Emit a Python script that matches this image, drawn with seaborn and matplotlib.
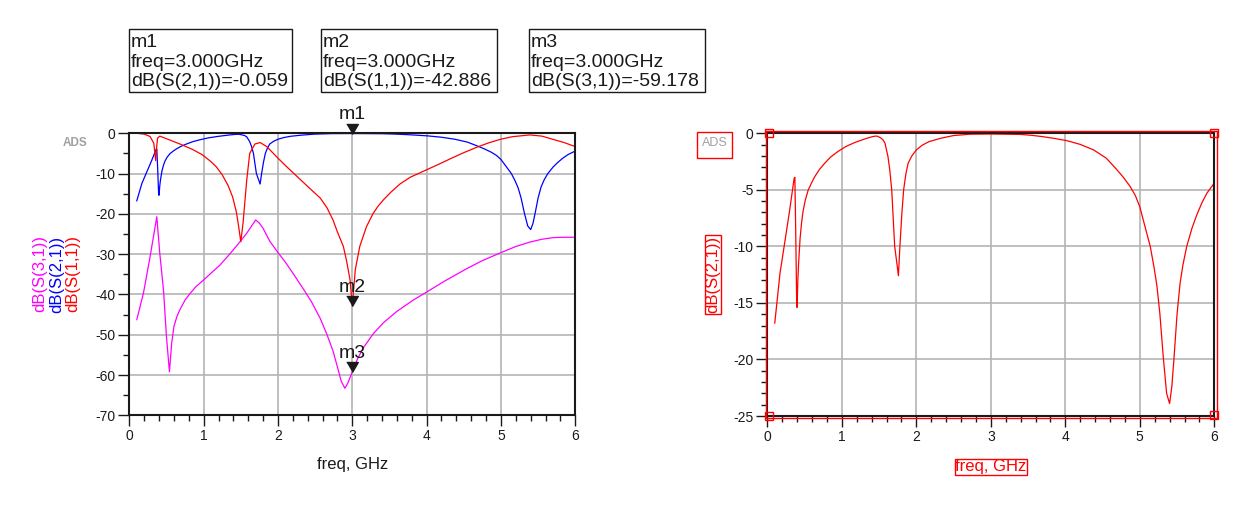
import matplotlib
matplotlib.use("Agg")
import matplotlib.pyplot as plt
import seaborn as sns
from matplotlib.patches import Rectangle
from matplotlib.ticker import MultipleLocator

# ---------------- data ----------------
s11_freq = [0.10, 0.20, 0.28, 0.33, 0.355, 0.37, 0.38, 0.41, 0.55, 0.70, 0.85, 0.98, 1.09,
            1.17, 1.25, 1.33, 1.39, 1.44, 1.47, 1.50, 1.53, 1.58, 1.62, 1.69, 1.76, 1.85,
            1.98, 2.10, 2.25, 2.40, 2.57, 2.66, 2.74, 2.80, 2.88, 2.92, 2.97, 3.00, 3.04,
            3.10, 3.19, 3.28, 3.35, 3.42, 3.52, 3.64, 3.78, 3.90, 4.00, 4.15, 4.31, 4.50,
            4.67, 4.83, 4.99, 5.15, 5.39, 5.55, 5.70, 5.85, 6.00]
s11_db = [0.0, -0.2, -0.8, -2.5, -6.8, -3.0, -1.2, -0.7, -1.7, -2.8, -4.0, -5.3, -6.9,
          -8.3, -10.3, -13.0, -15.8, -19.5, -23.0, -26.9, -22.3, -11.6, -5.0, -2.65, -2.3, -3.3,
          -5.8, -8.0, -10.6, -13.2, -16.1, -18.5, -21.5, -24.5, -28.1, -31.4, -36.4, -42.886, -33.9,
          -28.1, -23.2, -19.9, -18.0, -16.5, -14.6, -12.6, -10.9, -9.9, -9.05, -7.8, -6.4, -4.8,
          -3.5, -2.4, -1.5, -0.85, -0.4, -0.7, -1.5, -2.3, -3.3]

s21_freq = [0.10, 0.17, 0.24, 0.30, 0.36, 0.37, 0.38, 0.395, 0.40, 0.41, 0.42, 0.44, 0.46,
            0.48, 0.51, 0.55, 0.60, 0.64, 0.70, 0.77, 0.85, 0.95, 1.06, 1.18, 1.33, 1.42,
            1.47, 1.51, 1.55, 1.58, 1.62, 1.645, 1.67, 1.71, 1.745, 1.76, 1.78, 1.805, 1.83,
            1.86, 1.89, 1.94, 2.00, 2.08, 2.17, 2.32, 2.50, 2.72, 3.00, 3.40, 3.55, 3.70,
            3.85, 4.02, 4.20, 4.38, 4.55, 4.69, 4.78, 4.87, 4.94, 5.00, 5.07, 5.14, 5.19,
            5.23, 5.27, 5.315, 5.36, 5.40, 5.43, 5.46, 5.50, 5.54, 5.58, 5.63, 5.70, 5.76,
            5.83, 5.90, 6.00]
s21_db = [-16.8, -12.4, -9.4, -6.8, -4.0, -3.9, -8.0, -15.3, -15.4, -13.0, -11.5, -9.3, -7.9,
          -6.9, -5.9, -5.0, -4.3, -3.8, -3.2, -2.65, -2.1, -1.6, -1.15, -0.8, -0.45, -0.28,
          -0.24, -0.36, -0.55, -0.88, -2.07, -3.3, -5.0, -10.0, -11.8, -12.6, -10.0, -7.2, -5.0,
          -3.6, -2.65, -2.0, -1.47, -1.05, -0.74, -0.45, -0.2, -0.08, -0.059, -0.1, -0.18, -0.3,
          -0.45, -0.65, -0.98, -1.47, -2.2, -3.2, -3.9, -4.7, -5.5, -6.5, -8.25, -10.0, -11.8,
          -13.5, -16.0, -19.8, -23.0, -23.9, -22.4, -19.8, -16.0, -13.3, -11.6, -10.0, -8.4, -7.3,
          -6.2, -5.3, -4.4]

s31_freq = [0.10, 0.19, 0.28, 0.37, 0.41, 0.46, 0.50, 0.54, 0.57, 0.60, 0.64, 0.68, 0.75,
            0.82, 0.90, 1.00, 1.10, 1.22, 1.35, 1.49, 1.58, 1.70, 1.75, 1.80, 1.89, 2.00,
            2.10, 2.20, 2.34, 2.45, 2.57, 2.66, 2.74, 2.80, 2.85, 2.90, 2.94, 2.97, 3.00,
            3.07, 3.15, 3.28, 3.42, 3.60, 3.82, 4.00, 4.25, 4.54, 4.75, 4.99, 5.20, 5.39,
            5.55, 5.70, 5.85, 6.00]
s31_db = [-46.3, -39.7, -30.6, -20.7, -29.8, -38.9, -50.5, -59.2, -52.1, -48.0, -45.5, -43.8, -41.4,
          -39.7, -38.0, -36.4, -34.7, -32.7, -30.0, -26.9, -24.8, -21.5, -22.3, -23.6, -26.8, -29.6,
          -32.0, -34.7, -38.6, -41.8, -46.0, -50.0, -54.0, -58.0, -61.5, -63.3, -62.0, -60.6, -59.178,
          -56.0, -53.2, -49.8, -47.0, -44.2, -41.4, -39.4, -36.6, -33.6, -31.6, -29.7, -28.1, -27.0,
          -26.3, -25.9, -25.8, -25.8]

trace_names = ["dB(S(3,1))", "dB(S(2,1))", "dB(S(1,1))"]
trace_colors = ["#ff00ff", "#0000ff", "#ff0000"]

marker_names = ["m1", "m2", "m3"]
marker_freqs = [3.0, 3.0, 3.0]
marker_vals = [-0.059, -42.886, -59.178]
marker_traces = ["dB(S(2,1))", "dB(S(1,1))", "dB(S(3,1))"]

x_label = "freq, GHz"

# ---------------- figure ----------------
sns.set_theme(style="white")
plt.rcParams['font.family'] = ['Liberation Sans', 'DejaVu Sans']
plt.rcParams['axes.unicode_minus'] = False

W, H = 1244, 507
fig = plt.figure(figsize=(W / 100, H / 100), dpi=100)
fig.patch.set_facecolor("white")


def px_rect(l, t, r, b):
    return [l / W, 1 - b / H, (r - l) / W, (b - t) / H]


def fx(x):
    return x / W


def fy(y):
    return 1 - y / H


axL = fig.add_axes(px_rect(129.3, 133.3, 575.3, 415.3))
axR = fig.add_axes(px_rect(767.3, 133.3, 1214.3, 416.0))


def style(ax, ymaj, ymin, ylim):
    ax.set_xlim(0, 6)
    ax.set_ylim(*ylim)
    ax.xaxis.set_major_locator(MultipleLocator(1))
    ax.xaxis.set_minor_locator(MultipleLocator(0.2))
    ax.yaxis.set_major_locator(MultipleLocator(ymaj))
    ax.yaxis.set_minor_locator(MultipleLocator(ymin))
    ax.set_axisbelow(True)
    ax.grid(True, which='major', color='#b4b4b4', lw=1.2)
    ax.grid(False, which='minor')
    ax.tick_params(which='major', direction='out', length=7.9, width=1, color='k',
                   labelsize=10, pad=2, bottom=True, left=True, labelcolor='k')
    ax.tick_params(which='minor', direction='out', length=4.3, width=1, color='k',
                   bottom=True, left=True)
    for s in ax.spines.values():
        s.set_visible(True)
        s.set_color('k')
        s.set_linewidth(1.5)
    ax.set_facecolor('white')
    ax.set_ylabel('')


# left plot
series = [(s31_freq, s31_db), (s21_freq, s21_db), (s11_freq, s11_db)]
for (fq, db), col in zip(series, trace_colors):
    sns.lineplot(x=fq, y=db, ax=axL, color=col, lw=0.9, estimator=None, sort=False)
style(axL, 10, 5, (-70, 0))
axL.set_xlabel(x_label, fontsize=12, color='k')
axL.xaxis.set_label_coords(0.5, -(457 - 415.3) / 282.0)

# right plot
sns.lineplot(x=s21_freq, y=s21_db, ax=axR, color="#ff0000", lw=0.9, estimator=None, sort=False)
style(axR, 5, 1, (-25, 0))
axR.set_xlabel('')

# markers on left plot
for name, f, v in zip(marker_names, marker_freqs, marker_vals):
    axL.plot([f], [v], marker=[(-0.58, 1), (0.58, 1), (0, 0)], ms=14.4, color='k',
             ls='none', clip_on=False, zorder=5)
    axL.annotate(name, xy=(f, v), xytext=(0, 10.2), textcoords='offset points',
                 ha='center', va='baseline', fontsize=14, color='k', zorder=6,
                 annotation_clip=False)

# marker readout boxes
boxes = [(129, 29, 292, 92), (321, 29, 497, 92), (529, 29, 705, 92)]
for (l, t, r, b), name, f, v, tr in zip(boxes, marker_names, marker_freqs, marker_vals, marker_traces):
    fig.add_artist(Rectangle((fx(l), fy(b)), (r - l) / W, (b - t) / H, transform=fig.transFigure,
                             fill=False, ec='k', lw=1))
    lines = [name, f"freq={f:.3f}GHz", f"{tr}={v:.3f}"]
    for i, ln in enumerate(lines):
        fig.text(fx(l + 2), fy(t + 18 + 19.7 * i), ln, ha='left', va='baseline',
                 fontsize=14, color='k')

# left stacked y labels
for xc, nm, col in zip([40, 56.5, 72.5], trace_names, trace_colors):
    fig.text(fx(xc), fy(274), nm, rotation=90, color=col, fontsize=12, ha='center', va='center')

# ADS tags
fig.text(fx(75), fy(143), "ADS", color='#a0a0a0', fontsize=8.5, fontweight='bold',
         ha='center', va='center')
fig.add_artist(Rectangle((fx(697), fy(158)), 35 / W, 26 / H, transform=fig.transFigure,
                         fill=False, ec='#ff0000', lw=1))
fig.text(fx(714.5), fy(143), "ADS", color='#a0a0a0', fontsize=9, ha='center', va='center')

# right-plot labels in red boxes
fig.text(fx(713), fy(274.5), trace_names[1], rotation=90, color='#ff0000', fontsize=12,
         ha='center', va='center',
         bbox=dict(boxstyle='square,pad=0.05', fc='none', ec='#ff0000', lw=1))
fig.text(fx(991), fy(467), x_label, color='#ff0000', fontsize=12, ha='center', va='center',
         bbox=dict(boxstyle='square,pad=0.05', fc='none', ec='#ff0000', lw=1))

# red selection frame around right plot
fig.add_artist(Rectangle((fx(765.5), fy(417.5)), (1216.7 - 765.5) / W, (417.5 - 131) / H,
                         transform=fig.transFigure, fill=False, ec='#ff0000', lw=1, zorder=10))
for cx, cy in [(768.5, 133.5), (1214, 133), (768.5, 415.5), (1214, 415)]:
    fig.add_artist(Rectangle((fx(cx - 4), fy(cy + 4)), 8 / W, 8 / H, transform=fig.transFigure,
                             fill=False, ec='#ff0000', lw=1, zorder=10))

fig.savefig("out.png", dpi=100)
